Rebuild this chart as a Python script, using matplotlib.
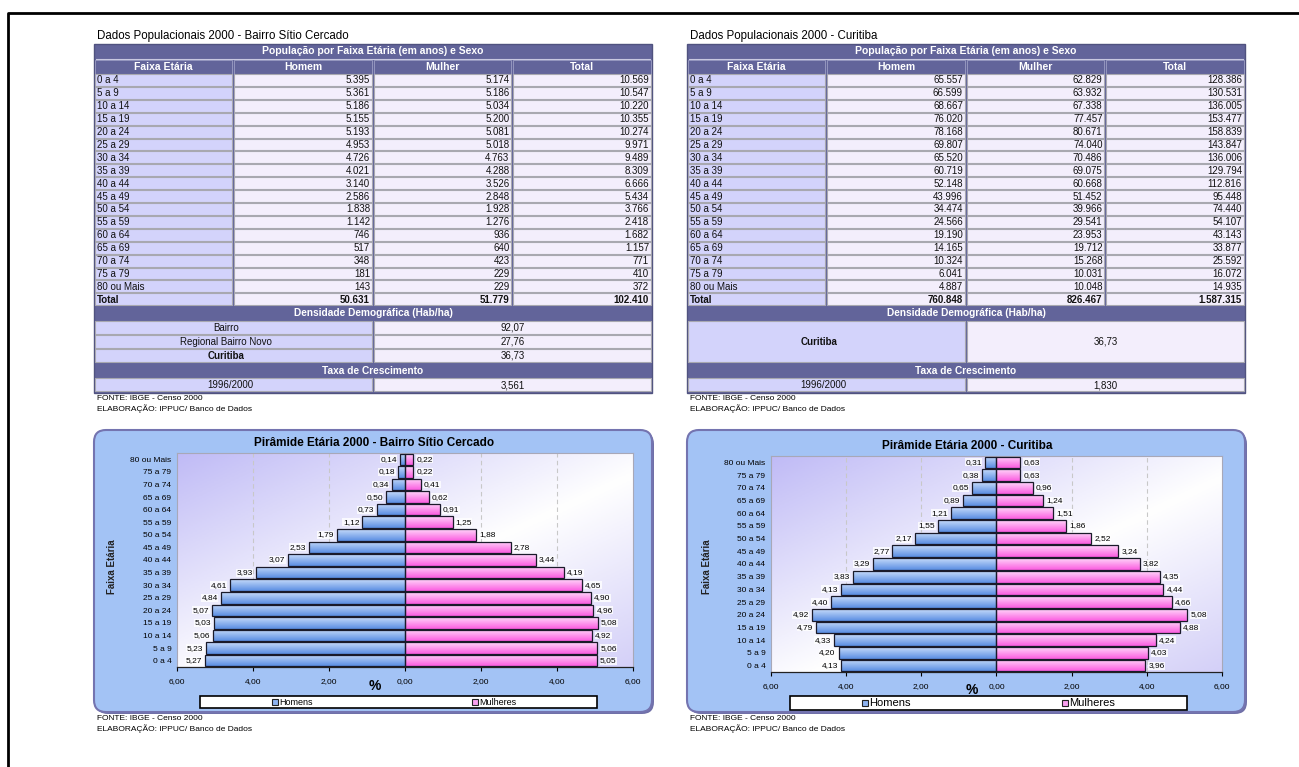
import numpy as np
import matplotlib
matplotlib.use("Agg")
import matplotlib.pyplot as plt
from matplotlib.patches import Rectangle, FancyBboxPatch
from matplotlib.colors import LinearSegmentedColormap

plt.rcParams['font.family'] = ['Liberation Sans', 'DejaVu Sans']

W, H = 1299, 767

# ---- data ----
faixas = ["0 a 4", "5 a 9", "10 a 14", "15 a 19", "20 a 24", "25 a 29", "30 a 34",
          "35 a 39", "40 a 44", "45 a 49", "50 a 54", "55 a 59", "60 a 64",
          "65 a 69", "70 a 74", "75 a 79", "80 ou Mais"]

sc_homem = ["5.395", "5.361", "5.186", "5.155", "5.193", "4.953", "4.726", "4.021", "3.140",
            "2.586", "1.838", "1.142", "746", "517", "348", "181", "143"]
sc_mulher = ["5.174", "5.186", "5.034", "5.200", "5.081", "5.018", "4.763", "4.288", "3.526",
             "2.848", "1.928", "1.276", "936", "640", "423", "229", "229"]
sc_total = ["10.569", "10.547", "10.220", "10.355", "10.274", "9.971", "9.489", "8.309", "6.666",
            "5.434", "3.766", "2.418", "1.682", "1.157", "771", "410", "372"]
sc_totais = ["50.631", "51.779", "102.410"]
sc_densidade = [("Bairro", "92,07", False), ("Regional Bairro Novo", "27,76", False),
                ("Curitiba", "36,73", True)]
sc_taxa = ("1996/2000", "3,561")

cwb_homem = ["65.557", "66.599", "68.667", "76.020", "78.168", "69.807", "65.520", "60.719",
             "52.148", "43.996", "34.474", "24.566", "19.190", "14.165", "10.324", "6.041", "4.887"]
cwb_mulher = ["62.829", "63.932", "67.338", "77.457", "80.671", "74.040", "70.486", "69.075",
              "60.668", "51.452", "39.966", "29.541", "23.953", "19.712", "15.268", "10.031", "10.048"]
cwb_total = ["128.386", "130.531", "136.005", "153.477", "158.839", "143.847", "136.006", "129.794",
             "112.816", "95.448", "74.440", "54.107", "43.143", "33.877", "25.592", "16.072", "14.935"]
cwb_totais = ["760.848", "826.467", "1.587.315"]
cwb_densidade = [("Curitiba", "36,73", True)]
cwb_taxa = ("1996/2000", "1,830")

# pyramid percentages, 0 a 4 first
sc_pct_h = [5.27, 5.23, 5.06, 5.03, 5.07, 4.84, 4.61, 3.93, 3.07, 2.53, 1.79, 1.12, 0.73, 0.50, 0.34, 0.18, 0.14]
sc_pct_m = [5.05, 5.06, 4.92, 5.08, 4.96, 4.90, 4.65, 4.19, 3.44, 2.78, 1.88, 1.25, 0.91, 0.62, 0.41, 0.22, 0.22]
cwb_pct_h = [4.13, 4.20, 4.33, 4.79, 4.92, 4.40, 4.13, 3.83, 3.29, 2.77, 2.17, 1.55, 1.21, 0.89, 0.65, 0.38, 0.31]
cwb_pct_m = [3.96, 4.03, 4.24, 4.88, 5.08, 4.66, 4.44, 4.35, 3.82, 3.24, 2.52, 1.86, 1.51, 1.24, 0.96, 0.63, 0.63]

HEAD = "#62649a"
LAV = "#d3d3fb"
LIGHT = "#f3eefc"
EDGE = "#a8a8b0"
FS = 7.0

fig = plt.figure(figsize=(W / 100, H / 100), dpi=100)
bg = fig.add_axes([0, 0, 1, 1])
bg.set_xlim(0, W)
bg.set_ylim(H, 0)
bg.axis("off")

# page border
bg.plot([8, 8, W], [H, 13, 13], color="black", lw=2)


def cell(x0, y0, x1, y1, fc, txt=None, ha="left", bold=False, tx=None):
    bg.add_patch(Rectangle((x0, y0), x1 - x0, y1 - y0, fc=fc, ec=EDGE, lw=0.8))
    if txt is not None:
        if tx is None:
            tx = {"left": x0 + 2, "right": x1 - 2, "center": (x0 + x1) / 2}[ha]
        bg.text(tx, (y0 + y1) / 2 + 0.5, txt, ha=ha, va="center", fontsize=FS,
                fontweight="bold" if bold else "normal", color="#111111")


def draw_table(x0, title, homem, mulher, total, totais, densidade, taxa):
    w = 558
    x1 = x0 + w
    bg.text(x0 + 3, 36, title, fontsize=8.3, va="center", ha="left")
    bg.add_patch(Rectangle((x0, 44), w, 349, fc=HEAD, ec="#50527f", lw=1))
    bg.text(x0 + w / 2, 51.5, "População por Faixa Etária (em anos) e Sexo", ha="center",
            va="center", color="white", fontsize=7.5, fontweight="bold")
    bg.plot([x0 + 2, x1 - 2], [58.5, 58.5], color="#c8c8e0", lw=0.8)
    cw = w / 4
    heads = ["Faixa Etária", "Homem", "Mulher", "Total"]
    for i, hd in enumerate(heads):
        cx = x0 + i * cw
        bg.add_patch(Rectangle((cx + 1, 59.5), cw - 2, 14, fc=HEAD, ec="#9c9ec4", lw=0.6))
        bg.text(cx + cw / 2, 66.5, hd, ha="center", va="center", color="white",
                fontsize=7.5, fontweight="bold")
    rh = 12.9
    labels = faixas + ["Total"]
    cols = [list(homem) + [totais[0]], list(mulher) + [totais[1]], list(total) + [totais[2]]]
    for r, lab in enumerate(labels):
        y0 = 74 + r * rh
        bold = lab == "Total"
        cell(x0 + 1, y0, x0 + cw - 1, y0 + rh - 1, LAV, lab, "left", bold)
        for c in range(3):
            cx = x0 + (c + 1) * cw
            cell(cx + 1, y0, cx + cw - 1, y0 + rh - 1, LIGHT, cols[c][r], "right", bold)
    # density
    bg.text(x0 + w / 2, 313.5, "Densidade Demográfica (Hab/ha)", ha="center", va="center",
            color="white", fontsize=7.3, fontweight="bold")
    dh = 42 / len(densidade)
    for k, (lab, val, bold) in enumerate(densidade):
        y0 = 321 + k * dh
        cell(x0 + 1, y0, x0 + 2 * cw - 1, y0 + dh - 1, LAV, lab, "center", bold, tx=x0 + 132)
        cell(x0 + 2 * cw + 1, y0, x1 - 1, y0 + dh - 1, LIGHT, val, "center", False)
    bg.text(x0 + w / 2, 370.5, "Taxa de Crescimento", ha="center", va="center",
            color="white", fontsize=7.3, fontweight="bold")
    cell(x0 + 1, 378, x0 + 2 * cw - 1, 391, LAV, taxa[0], "center", False, tx=x0 + 136)
    cell(x0 + 2 * cw + 1, 378, x1 - 1, 391, LIGHT, taxa[1], "center")
    bg.text(x0 + 3, 399, "FONTE: IBGE - Censo 2000", fontsize=6, va="center")
    bg.text(x0 + 3, 409, "ELABORAÇÃO: IPPUC/ Banco de Dados", fontsize=6, va="center")


draw_table(94, "Dados Populacionais 2000 - Bairro Sítio Cercado",
           sc_homem, sc_mulher, sc_total, sc_totais, sc_densidade, sc_taxa)
draw_table(687, "Dados Populacionais 2000 - Curitiba",
           cwb_homem, cwb_mulher, cwb_total, cwb_totais, cwb_densidade, cwb_taxa)

# ---- pyramids ----
grad_cmap = LinearSegmentedColormap.from_list(
    "bgc", [(0.0, "#c0bbf6"), (0.55, "#ffffff"), (1.0, "#d4d0f8")])
blue_cmap = LinearSegmentedColormap.from_list("bl", ["#5a8de2", "#c6dbfb"])
pink_cmap = LinearSegmentedColormap.from_list("pk", ["#fb5ce0", "#ffd6fa"])


def fmt(v):
    return f"{v:.2f}".replace(".", ",")


def draw_pyramid(x0, title, pa, legend_box, pct_h, pct_m, xlab, ylab, leg_fs):
    # panel
    bg.add_patch(FancyBboxPatch((x0 + 2, 432), 558, 282, boxstyle="round,pad=0,rounding_size=12",
                                fc="#7070a8", ec="none"))
    bg.add_patch(FancyBboxPatch((x0, 430), 558, 282, boxstyle="round,pad=0,rounding_size=12",
                                fc="#a3c3f5", ec="#7474b0", lw=1.5))
    bg.text(x0 + 280, pa[1] - 10, title, ha="center", va="center", fontsize=8.5, fontweight="bold")
    ax = fig.add_axes([pa[0] / W, 1 - pa[3] / H, (pa[2] - pa[0]) / W, (pa[3] - pa[1]) / H])
    n = len(faixas)
    ax.set_xlim(-6, 6)
    ax.set_ylim(-0.5, n - 0.5)
    gx, gy = np.meshgrid(np.linspace(0, 1, 200), np.linspace(0, 1, 100))
    ax.imshow((gx + gy) / 2, cmap=grad_cmap, extent=(-6, 6, -0.5, n - 0.5), origin="upper",
              aspect="auto", zorder=0)
    for gxv in [-4, -2, 2, 4]:
        ax.axvline(gxv, color="#c8c8c8", lw=0.8, ls=(0, (4, 3)), zorder=1)
    y = np.arange(n)
    bh = 0.92
    ramp = np.linspace(0, 1, 50).reshape(-1, 1)
    for i in y:
        h = pct_h[i]
        m = pct_m[i]
        bb = ax.barh(i, -h, height=bh, color="none", ec="#1a1a2a", lw=0.9, zorder=3)
        im = ax.imshow(ramp, cmap=blue_cmap, extent=(-h, 0, i - bh / 2, i + bh / 2),
                       origin="lower", aspect="auto", zorder=2)
        im.set_clip_path(bb.patches[0])
        bm = ax.barh(i, m, height=bh, color="none", ec="#1a1a2a", lw=0.9, zorder=3)
        im = ax.imshow(ramp, cmap=pink_cmap, extent=(0, m, i - bh / 2, i + bh / 2),
                       origin="lower", aspect="auto", zorder=2)
        im.set_clip_path(bm.patches[0])
        ax.text(-h - 0.08, i, fmt(h), ha="right", va="center", fontsize=6, zorder=4,
                bbox=dict(fc="white", ec="none", pad=0.3, alpha=0.8))
        ax.text(m + 0.08, i, fmt(m), ha="left", va="center", fontsize=6, zorder=4,
                bbox=dict(fc="white", ec="none", pad=0.3, alpha=0.8))
    ax.set_xlim(-6, 6)
    ax.set_ylim(-0.5, n - 0.5)
    ax.set_yticks(y)
    ax.set_yticklabels(faixas, fontsize=6)
    ax.tick_params(axis="y", length=0, pad=4)
    ax.set_xticks(np.arange(-6, 7, 2))
    ax.set_xticklabels([fmt(abs(v)) for v in np.arange(-6, 7, 2)], fontsize=6)
    ax.tick_params(axis="x", length=3, width=0.8, pad=5)
    for s in ["top", "right", "left"]:
        ax.spines[s].set_color("#a8a8b8")
        ax.spines[s].set_linewidth(0.8)
    ax.spines["bottom"].set_color("#222222")
    ax.spines["bottom"].set_linewidth(0.9)
    bg.text(xlab[0], xlab[1], "%", ha="center", va="center", fontsize=10, fontweight="bold")
    bg.text(ylab[0], ylab[1], "Faixa Etária", ha="center", va="center", rotation=90,
            fontsize=7, fontweight="bold", color="#222222")
    # legend
    lx0, ly0, lx1, ly1 = legend_box
    bg.add_patch(Rectangle((lx0, ly0), lx1 - lx0, ly1 - ly0, fc="white", ec="black", lw=1.2))
    ym = (ly0 + ly1) / 2
    for mx, col, lab in [(lx0 + 72, "#8db3f1", "Homens"), (lx0 + 272, "#f99fef", "Mulheres")]:
        bg.add_patch(Rectangle((mx, ym - 3), 6, 6, fc=col, ec="#222222", lw=0.8))
        bg.text(mx + 7, ym + 0.5, lab, ha="left", va="center", fontsize=leg_fs)
    bg.text(x0 + 3, 719, "FONTE: IBGE - Censo 2000", fontsize=6, va="center")
    bg.text(x0 + 3, 729, "ELABORAÇÃO: IPPUC/ Banco de Dados", fontsize=6, va="center")


draw_pyramid(94, "Pirâmide Etária 2000 - Bairro Sítio Cercado", (177, 453, 633, 667),
             (200, 696, 597, 708), sc_pct_h, sc_pct_m, (375, 686), (112, 567), 6.5)
draw_pyramid(687, "Pirâmide Etária 2000 - Curitiba", (771, 456, 1222, 672),
             (790, 696, 1187, 710), cwb_pct_h, cwb_pct_m, (972, 690), (707, 567), 8)

fig.savefig("out.png", dpi=100)
